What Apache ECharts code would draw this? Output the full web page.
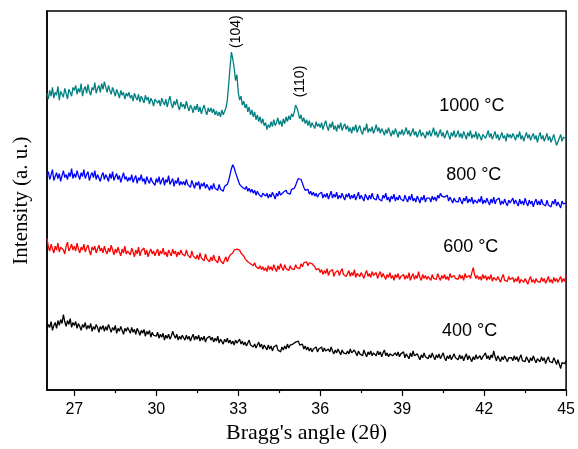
<!DOCTYPE html>
<html>
<head>
<meta charset="utf-8">
<script src="https://cdn.jsdelivr.net/npm/echarts@6/dist/echarts.min.js"></script>
<style>html,body{margin:0;padding:0;background:#fff}#c{width:578px;height:449px}</style>
</head>
<body>
<div id="c"></div>
<script>
// 2θ grid of the scan (degrees)
const angleStart = 26.0;
const angleStep = 0.05;
const majorTicks = [27, 30, 33, 36, 39, 42, 45];
const minorTicks = [28.5, 31.5, 34.5, 37.5, 40.5, 43.5];

const seriesNames = ['1000 °C', '800 °C', '600 °C', '400 °C'];

const i1000 = [
303,297,306,300,309,298,304,301,310,296,305,302,299,308,303,297,307,304,300,309,
306,311,302,308,304,313,300,307,310,303,312,305,301,309,306,314,303,308,311,304,
313,307,315,309,304,311,306,302,309,305,300,307,303,298,306,301,304,297,303,300,
304,298,301,295,303,299,296,302,294,300,297,293,301,296,299,292,298,295,290,297,
299,293,296,290,298,294,291,297,289,295,300,292,288,295,291,297,290,286,294,289,
292,287,295,289,285,291,288,283,290,286,292,284,289,282,287,291,285,281,288,284,
288,283,287,281,285,280,284,279,286,281,283,288,296,312,330,345,338,329,316,322,
304,296,300,291,295,288,292,284,289,281,286,279,284,276,281,274,279,272,277,270,
273,266,271,268,274,269,276,270,273,278,271,275,269,277,272,279,274,280,276,282,
279,284,291,288,283,277,281,274,278,272,276,270,275,268,273,271,267,274,269,272,
268,273,266,271,275,269,265,272,268,274,266,270,264,271,267,273,265,269,272,266,
270,264,268,262,269,265,271,263,267,270,264,261,268,265,272,263,267,264,269,262,
266,271,264,268,262,267,264,260,266,262,268,263,259,265,261,267,263,258,264,261,
266,260,264,268,261,265,259,263,267,260,264,258,262,266,259,263,261,257,264,260,
265,259,263,268,260,264,258,262,266,259,263,257,261,265,260,256,263,259,265,258,
261,265,258,262,257,264,260,256,263,259,265,257,261,258,264,256,262,259,255,261,
263,257,261,265,258,262,256,260,264,257,261,255,259,263,257,260,254,262,258,261,
257,262,259,255,261,258,264,256,260,254,259,263,257,261,255,259,262,256,260,253,
259,263,256,260,254,258,262,255,259,253,257,261,255,250,252,257,261,254,258,256,
257];

const i800 = [
219,223,215,220,225,214,218,222,216,221,213,219,224,217,220,215,222,218,226,216,
221,217,224,219,215,222,218,225,216,220,223,214,219,222,217,224,215,220,218,213,
219,222,215,220,217,213,221,216,223,214,218,221,215,219,212,217,222,215,218,213,
217,214,220,212,216,219,211,217,214,220,213,216,210,218,214,211,217,213,215,209,
216,212,218,210,214,217,209,215,212,219,210,213,216,208,214,211,217,209,213,210,
213,209,215,210,212,207,214,210,206,212,209,213,205,211,208,212,206,210,207,204,
209,205,211,206,208,204,210,205,207,203,208,206,210,214,220,226,230,227,222,218,
214,210,212,207,209,205,208,203,206,202,205,201,204,199,203,200,202,197,201,199,
198,201,196,200,197,202,199,195,201,198,203,199,197,202,200,204,201,203,200,205,
203,206,209,213,216,218,215,211,207,204,202,205,200,203,199,202,198,201,197,200,
198,202,196,200,197,201,195,199,203,196,200,197,202,195,199,196,201,197,194,200,
197,201,195,199,196,200,194,198,202,195,199,196,193,200,197,194,199,195,201,196,
198,194,200,195,197,193,199,196,201,194,197,192,198,195,200,193,197,194,199,195,
197,193,199,195,192,198,194,200,193,196,192,198,195,191,197,194,199,192,196,194,
196,192,198,194,197,193,199,196,201,198,200,197,195,199,193,197,194,191,196,193,
195,192,197,193,190,196,193,198,191,195,192,197,190,194,196,191,195,192,198,190,
194,191,196,192,189,195,191,197,190,194,192,196,189,193,190,195,191,188,194,191,
193,196,190,194,191,188,195,190,193,189,196,191,188,194,190,193,187,192,195,189,
193,189,195,190,192,188,194,189,191,187,193,190,195,188,192,189,186,193,190,188,
191];

const i600 = [
155,146,142,149,144,140,147,143,150,141,146,148,143,139,147,151,142,145,149,143,
147,142,150,144,140,146,143,149,141,145,148,142,138,146,143,147,140,144,148,142,
145,140,147,142,139,145,141,148,143,138,144,140,146,141,137,144,140,147,139,142,
143,138,145,141,136,143,139,146,137,142,140,145,138,143,136,141,144,139,142,137,
141,144,137,142,139,145,138,141,136,143,140,137,144,139,142,136,141,138,143,139,
141,137,143,138,140,135,142,137,139,134,138,133,140,135,137,132,139,134,136,131,
136,132,138,133,135,130,137,132,134,129,133,136,131,135,138,136,140,143,141,144,
146,143,140,142,137,134,136,131,133,129,131,127,130,126,128,124,127,123,126,122,
125,121,127,123,126,122,128,124,121,127,123,129,125,122,128,124,126,122,127,124,
126,123,128,125,127,124,129,126,130,128,131,127,130,132,129,131,126,123,121,124,
120,123,118,122,119,124,117,121,119,123,116,120,118,122,117,121,124,118,120,116,
119,122,116,120,117,123,115,119,121,116,120,117,114,119,122,116,119,115,121,117,
116,120,114,118,121,115,119,116,113,118,115,120,114,117,112,118,115,119,113,116,
115,118,113,117,114,120,112,116,119,113,117,114,121,115,112,118,114,117,113,116,
115,112,118,114,116,113,119,115,112,117,114,118,113,116,112,119,115,113,117,114,
116,113,118,114,117,112,119,115,113,117,114,120,125,118,114,117,113,116,112,118,
114,117,112,116,113,118,111,115,117,112,116,113,110,115,118,112,114,111,116,113,
112,115,110,114,111,116,109,113,115,110,114,111,108,113,116,110,113,109,114,111,
113,110,115,111,114,109,112,116,110,113,109,115,111,114,110,112,116,110,114,111,
117];

const i400 = [
62,67,64,70,61,66,69,63,71,66,72,68,77,70,65,71,67,73,64,69,
66,70,63,68,65,61,67,64,69,62,66,63,68,60,65,62,67,64,59,65,
62,66,60,65,61,67,63,59,64,61,66,58,63,60,65,61,57,63,60,64,
61,58,64,59,62,57,63,60,56,61,58,62,55,60,57,61,54,59,56,58,
55,59,53,57,54,58,51,56,53,57,52,55,60,56,53,57,51,55,52,56,
54,51,56,52,55,50,54,57,51,55,52,56,50,54,51,55,49,53,51,55,
51,54,49,53,50,55,48,52,50,47,52,49,53,48,51,47,50,46,51,48,
49,52,47,50,46,49,45,48,51,46,48,44,47,43,46,49,44,47,42,46,
44,41,46,42,45,40,44,42,46,41,43,39,44,41,45,42,47,43,46,44,
47,45,49,47,50,46,44,47,42,45,41,44,40,43,39,42,40,44,39,42,
41,44,39,43,40,38,42,39,44,40,37,41,38,42,39,36,41,38,40,37,
40,37,42,38,36,41,38,35,40,37,39,35,41,37,34,39,36,40,35,38,
38,35,40,36,39,34,38,41,35,38,34,37,39,35,33,38,35,39,34,37,
36,39,33,37,35,32,38,34,40,35,33,37,34,31,36,33,38,34,36,32,
36,33,38,34,31,36,33,37,32,35,38,33,30,35,32,36,31,34,37,33,
34,31,36,32,35,30,34,37,31,35,32,29,34,31,36,32,30,35,31,34,
34,38,32,35,31,36,33,40,34,30,35,32,29,34,31,35,32,29,33,31,
33,30,35,31,34,29,33,36,30,32,29,34,31,28,33,30,35,31,28,32,
32,29,34,30,33,27,31,34,29,31,28,33,30,26,31,29,22,28,30,27,
30];

// label anchors in data coordinates [2θ, intensity]
const tempLabelPos = [[41.55, 290], [41.62, 220], [41.51, 146], [41.47, 60]];
const peakLabels = ['(104)', '(110)'];
const peakLabelPos = [[32.93, 366], [35.27, 315]];

const colors = ['#008080', '#0000ff', '#ff0000', '#000000'];
const allSeries = [i1000, i800, i600, i400];

function toPairs(arr) {
  return arr.map((v, i) => [+(angleStart + i * angleStep).toFixed(2), v]);
}

const chart = echarts.init(document.getElementById('c'), null, {renderer: 'canvas'});
const option = {
  animation: false,
  backgroundColor: '#fff',
  grid: {left: 47, right: 11, top: 11, bottom: 51, show: true, borderColor: '#000', borderWidth: 1.5, backgroundColor: 'transparent'},
  xAxis: [{
    type: 'value', min: 26, max: 45,
    name: "Bragg's angle (2θ)", nameLocation: 'middle', nameGap: 31,
    nameTextStyle: {fontFamily: 'Liberation Serif', fontSize: 22, color: '#000'},
    axisLine: {show: true, onZero: false, lineStyle: {color: '#000', width: 1.5}},
    axisTick: {show: true, inside: false, length: 6, lineStyle: {color: '#000', width: 1.2}, customValues: majorTicks},
    axisLabel: {show: true, margin: 11, fontFamily: 'Liberation Sans', fontSize: 16, color: '#000', customValues: majorTicks},
    splitLine: {show: false}
  }, {
    type: 'value', min: 26, max: 45, position: 'bottom',
    axisLine: {show: false},
    axisTick: {show: true, inside: false, length: 3, lineStyle: {color: '#000', width: 1.2}, customValues: minorTicks},
    axisLabel: {show: false, customValues: minorTicks},
    splitLine: {show: false}
  }],
  yAxis: {
    type: 'value', min: 0, max: 387,
    name: 'Intensity (a. u.)', nameLocation: 'middle', nameGap: 15,
    nameTextStyle: {fontFamily: 'Liberation Serif', fontSize: 21, color: '#000'},
    axisLine: {show: true, onZero: false, lineStyle: {color: '#000', width: 1.5}},
    axisTick: {show: false}, axisLabel: {show: false}, splitLine: {show: false}
  },
  series: allSeries.map((arr, k) => ({
    name: seriesNames[k], type: 'line', data: toPairs(arr), showSymbol: false,
    sampling: null, lineStyle: {color: colors[k], width: 1.3}, itemStyle: {color: colors[k]}
  }))
};
chart.setOption(option);

const graphics = [];
tempLabelPos.forEach((p, k) => {
  const px = chart.convertToPixel({xAxisIndex: 0, yAxisIndex: 0}, p);
  graphics.push({type: 'text', x: px[0], y: px[1], style: {text: seriesNames[k], font: '18px "Liberation Sans"', fill: '#000', align: 'center', verticalAlign: 'middle'}});
});
peakLabelPos.forEach((p, k) => {
  const px = chart.convertToPixel({xAxisIndex: 0, yAxisIndex: 0}, p);
  graphics.push({type: 'text', x: px[0], y: px[1], rotation: Math.PI / 2, style: {text: peakLabels[k], font: '14px "Liberation Sans"', fill: '#000', align: 'center', verticalAlign: 'middle'}});
});
chart.setOption({graphic: graphics});
</script>
</body>
</html>
